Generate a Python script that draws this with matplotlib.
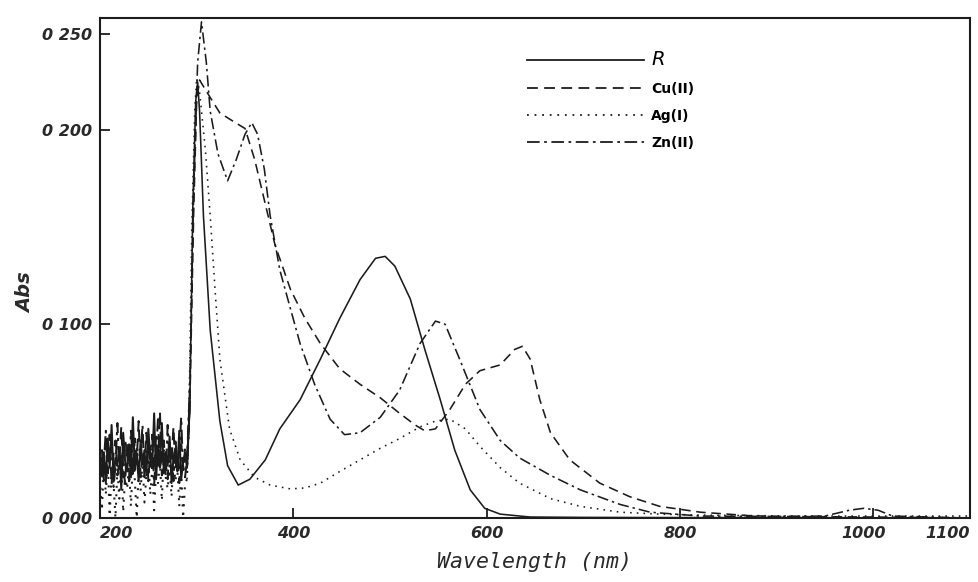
import numpy as np
import matplotlib
matplotlib.use("Agg")
import matplotlib.pyplot as plt
from matplotlib.transforms import offset_copy

# Noisy stretch below ~290 nm (solvent cut-off), sampled every 2 nm
noise_nm = list(range(200, 292, 2))
r_noise = [0.030, 0.022, 0.034, 0.018, 0.041, 0.026, 0.048, 0.020, 0.031, 0.027, 0.036, 0.015,
           0.044, 0.029, 0.024, 0.038, 0.021, 0.052, 0.025, 0.033, 0.019, 0.040, 0.028, 0.035,
           0.022, 0.046, 0.030, 0.026, 0.054, 0.020, 0.037, 0.029, 0.049, 0.023, 0.034, 0.027,
           0.042, 0.018, 0.031, 0.036, 0.024, 0.045, 0.020, 0.029, 0.033, 0.026]
cu_noise = [0.025, 0.035, 0.019, 0.030, 0.024, 0.043, 0.017, 0.033, 0.040, 0.022, 0.029, 0.047,
            0.026, 0.018, 0.039, 0.028, 0.034, 0.023, 0.041, 0.030, 0.050, 0.021, 0.032, 0.026,
            0.044, 0.019, 0.037, 0.031, 0.024, 0.042, 0.027, 0.055, 0.022, 0.035, 0.028, 0.020,
            0.039, 0.030, 0.047, 0.025, 0.033, 0.018, 0.038, 0.027, 0.021, 0.030]
zn_noise = [0.033, 0.020, 0.028, 0.045, 0.023, 0.031, 0.037, 0.016, 0.027, 0.049, 0.024, 0.032,
            0.021, 0.040, 0.034, 0.019, 0.045, 0.029, 0.023, 0.036, 0.027, 0.033, 0.048, 0.020,
            0.030, 0.038, 0.025, 0.043, 0.017, 0.034, 0.051, 0.026, 0.031, 0.040, 0.022, 0.048,
            0.029, 0.035, 0.019, 0.041, 0.028, 0.033, 0.052, 0.023, 0.036, 0.028]
ag_noise = [0.020, 0.004, 0.028, 0.012, 0.030, 0.001, 0.024, 0.018, 0.000, 0.026, 0.010, 0.032,
            0.003, 0.022, 0.015, 0.027, 0.006, 0.030, 0.020, 0.000, 0.025, 0.014, 0.029, 0.008,
            0.022, 0.031, 0.012, 0.026, 0.004, 0.024, 0.018, 0.028, 0.009, 0.033, 0.021, 0.015,
            0.027, 0.011, 0.030, 0.019, 0.026, 0.006, 0.024, 0.000, 0.018, 0.020]

# Ligand R
r_nm = [293, 296, 299, 301, 303, 307, 314, 324, 332, 343, 355, 371, 386, 407, 428, 448, 469,
        485, 495, 505, 521, 536, 552, 567, 583, 598, 614, 645, 700, 800, 900, 1000, 1100]
r_abs = [0.060, 0.160, 0.215, 0.225, 0.210, 0.156, 0.097, 0.050, 0.027, 0.017, 0.020, 0.030,
         0.046, 0.061, 0.082, 0.103, 0.123, 0.134, 0.135, 0.130, 0.113, 0.087, 0.061, 0.035,
         0.0145, 0.005, 0.002, 0.0005, 0.0003, 0.0002, 0.0002, 0.0001, 0.0]

# Cu(II) complex
cu_nm = [293, 297, 300, 303, 314, 324, 340, 350, 360, 371, 381, 397, 412, 428, 448, 469, 490,
         510, 526, 536, 547, 562, 578, 593, 614, 629, 637, 645, 655, 666, 686, 717, 748, 779,
         821, 872, 900, 1000, 1100]
cu_abs = [0.060, 0.160, 0.215, 0.226, 0.217, 0.209, 0.204, 0.201, 0.185, 0.162, 0.141, 0.118,
          0.103, 0.090, 0.077, 0.069, 0.062, 0.054, 0.048, 0.045, 0.046, 0.056, 0.069, 0.076,
          0.079, 0.087, 0.0886, 0.082, 0.061, 0.044, 0.030, 0.018, 0.011, 0.006, 0.003,
          0.0012, 0.0008, 0.0005, 0.0]

# Ag(I) complex
ag_nm = [292, 295, 298, 300, 303, 309, 314, 319, 324, 334, 345, 360, 376, 397, 412, 428, 448,
         469, 490, 510, 531, 547, 562, 578, 593, 614, 634, 666, 697, 738, 779, 821, 924, 1100]
ag_abs = [0.050, 0.150, 0.210, 0.227, 0.220, 0.190, 0.156, 0.118, 0.082, 0.046, 0.030, 0.021,
          0.017, 0.015, 0.0155, 0.018, 0.024, 0.030, 0.036, 0.041, 0.047, 0.050, 0.051, 0.046,
          0.037, 0.026, 0.018, 0.010, 0.006, 0.003, 0.002, 0.0015, 0.001, 0.001]

# Zn(II) complex
zn_nm = [293, 297, 301, 305, 310, 314, 322, 332, 341, 350, 357, 363, 370, 376, 386, 397, 407,
         422, 438, 453, 469, 490, 510, 531, 547, 557, 572, 593, 614, 634, 666, 697, 738, 769,
         821, 900, 950, 975, 990, 1005, 1020, 1100]
zn_abs = [0.070, 0.170, 0.235, 0.256, 0.235, 0.210, 0.188, 0.174, 0.185, 0.198, 0.204, 0.198,
          0.180, 0.156, 0.128, 0.108, 0.090, 0.069, 0.051, 0.043, 0.044, 0.052, 0.066, 0.090,
          0.1016, 0.100, 0.082, 0.056, 0.040, 0.031, 0.022, 0.0145, 0.007, 0.003, 0.001,
          0.0008, 0.001, 0.004, 0.005, 0.004, 0.001, 0.0]

x_ticks = [200, 400, 600, 800, 1000, 1100]
y_ticks = [0.0, 0.1, 0.2, 0.25]
y_tick_labels = ["0 000", "0 100", "0 200", "0 250"]

ink = "#1c1c1c"
lw = 1.15

fig = plt.figure(figsize=(9.79, 5.82), dpi=100)
ax = fig.add_axes([100 / 979, 64 / 582, 870 / 979, 500 / 582])

series = [
    ("R", r_noise, r_nm, r_abs, "-"),
    ("Cu(II)", cu_noise, cu_nm, cu_abs, (0, (6, 3.5))),
    ("Ag(I)", ag_noise, ag_nm, ag_abs, (0, (1, 3.2))),
    ("Zn(II)", zn_noise, zn_nm, zn_abs, (0, (7, 2.5, 1.5, 2.5))),
]
for label, nz, wl, ab, ls in series:
    # noisy UV cut-off part drawn a little heavier, as the recorder trace is
    ax.plot(noise_nm + wl[:1], nz + ab[:1], color=ink, lw=1.45, ls=ls)
    ax.plot(noise_nm[-1:] + wl, nz[-1:] + ab, color=ink, lw=lw, ls=ls, label=label)

ax.set_xlim(200, 1100)
ax.set_ylim(0, 0.258)
ax.set_xticks(x_ticks)
ax.set_xticklabels([str(t) for t in x_ticks])
ax.set_yticks(y_ticks)
ax.set_yticklabels(y_tick_labels)
ax.tick_params(direction="in", length=7, width=1.3, color=ink, labelcolor="#2a2a2a",
               labelsize=11.5, pad=6)
for lab in ax.get_xticklabels() + ax.get_yticklabels():
    lab.set_fontstyle("italic")
    lab.set_fontweight("bold")

# nudge the end labels of the wavelength axis so they stay inside the frame
xlabs = ax.get_xticklabels()
xlabs[0].set_horizontalalignment("left")
xlabs[-1].set_horizontalalignment("right")
xlabs[-2].set_transform(offset_copy(xlabs[-2].get_transform(), fig=fig, x=-10, units="dots"))

for sp in ax.spines.values():
    sp.set_linewidth(1.5)
    sp.set_color(ink)

ax.set_xlabel("Wavelength (nm)", family="DejaVu Sans Mono", style="italic",
              fontsize=15.5, color="#2a2a2a", labelpad=8)
ax.set_ylabel("Abs", style="italic", fontweight="bold", fontsize=14, color="#2a2a2a")
ax.yaxis.set_label_coords(-0.074, 0.45)

leg = ax.legend(loc="upper left", bbox_to_anchor=(0.477, 0.962), frameon=False,
                handlelength=8.4, handletextpad=0.5, labelspacing=0.95,
                prop={"size": 10, "weight": "bold"})
for line in leg.get_lines():
    line.set_linewidth(1.3)
texts = leg.get_texts()
texts[0].set_fontstyle("italic")
texts[0].set_fontweight("normal")
texts[0].set_fontsize(14)

fig.savefig("out.png", dpi=100, facecolor="white")
